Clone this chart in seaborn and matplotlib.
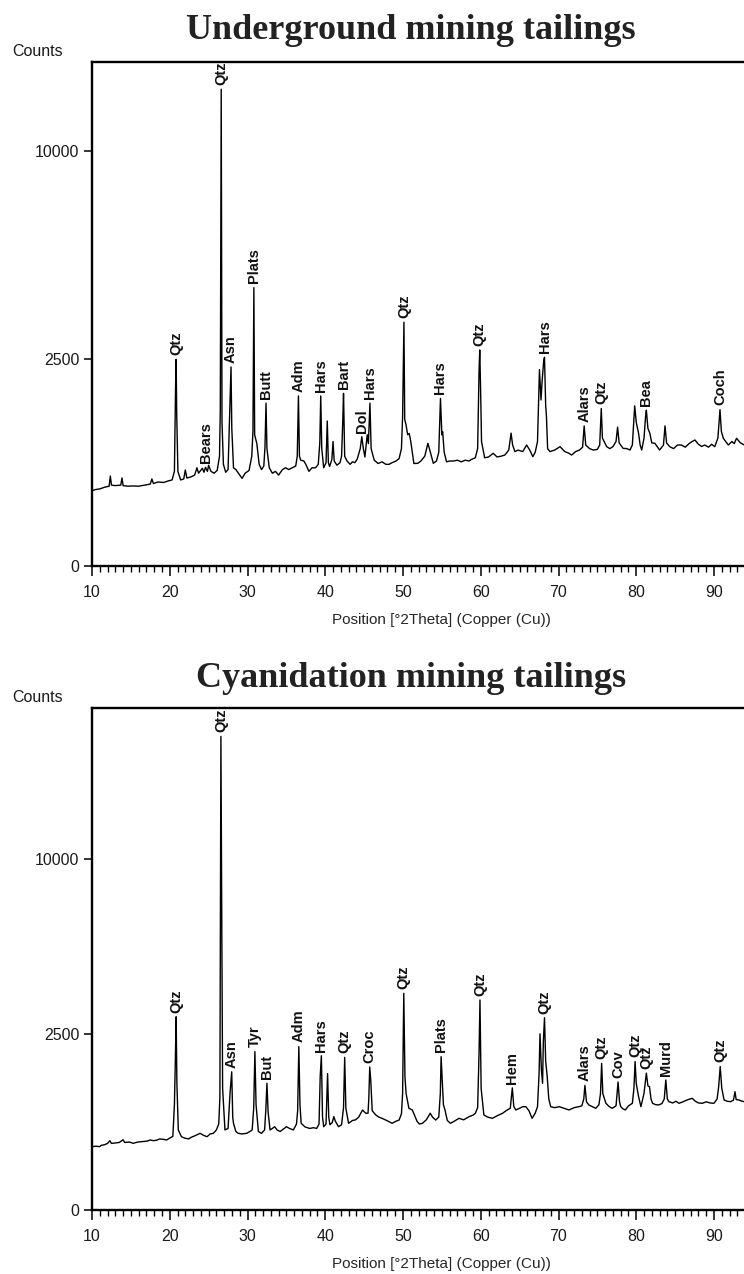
import numpy as np
import pandas as pd
import matplotlib
matplotlib.use("Agg")
import matplotlib.pyplot as plt
from matplotlib.ticker import MultipleLocator, FixedLocator, NullLocator
import seaborn as sns

# ---------------- Underground mining tailings: diffractogram ----------------
ug_theta = [
    10.0, 10.5, 11.0, 11.6, 12.2, 12.36, 12.5, 13.0, 13.7, 13.86, 14.0, 14.6, 15.3, 16.0, 16.8,
    17.5, 17.7, 17.9, 18.5, 19.2, 19.8, 20.3, 20.6, 20.75, 20.82, 20.9, 21.05, 21.4, 21.8, 22.0,
    22.2, 22.7, 23.2, 23.5, 23.7, 24.2, 24.4, 24.6, 24.85, 25.0, 25.3, 25.7, 26.1, 26.4, 26.5,
    26.62, 26.72, 26.9, 27.2, 27.5, 27.75, 27.88, 27.98, 28.2, 28.5, 29.0, 29.3, 29.7, 30.2, 30.55,
    30.7, 30.82, 30.92, 31.2, 31.5, 31.8, 32.1, 32.25, 32.38, 32.5, 32.8, 33.2, 33.6, 34.0, 34.5,
    34.9, 35.3, 35.75, 36.2, 36.4, 36.55, 36.68, 36.85, 37.25, 37.5, 37.9, 38.3, 38.75, 39.1, 39.3,
    39.42, 39.55, 39.8, 40.1, 40.26, 40.4, 40.56, 40.85, 41.0, 41.15, 41.5, 41.9, 42.1, 42.25, 42.35,
    42.5, 42.8, 43.2, 43.5, 43.8, 44.1, 44.5, 44.7, 44.9, 45.1, 45.4, 45.55, 45.75, 45.9, 46.3,
    46.8, 47.3, 47.8, 48.2, 48.6, 49.1, 49.5, 49.8, 49.95, 50.05, 50.12, 50.22, 50.4, 50.6, 50.8,
    51.0, 51.4, 51.9, 52.3, 52.8, 53.2, 53.5, 53.9, 54.3, 54.6, 54.75, 54.82, 55.0, 55.1, 55.3,
    55.6, 56.0, 56.5, 57.0, 57.5, 58.0, 58.5, 58.8, 59.3, 59.6, 59.78, 59.87, 59.97, 60.1, 60.5,
    61.0, 61.6, 62.1, 62.6, 63.1, 63.6, 63.9, 64.1, 64.4, 64.8, 65.4, 65.9, 66.3, 66.7, 67.0,
    67.3, 67.55, 67.75, 67.9, 68.1, 68.2, 68.35, 68.45, 68.6, 68.9, 69.5, 70.2, 70.8, 71.3, 71.7,
    72.2, 72.7, 73.1, 73.3, 73.5, 74.0, 74.5, 75.0, 75.3, 75.5, 75.65, 76.2, 76.6, 77.0, 77.4,
    77.6, 77.8, 78.3, 78.8, 79.2, 79.5, 79.8, 80.0, 80.3, 80.5, 80.7, 81.0, 81.2, 81.3, 81.5,
    81.75, 82.0, 82.4, 83.0, 83.5, 83.7, 83.9, 84.3, 84.8, 85.3, 85.8, 86.3, 86.8, 87.2, 87.55,
    88.0, 88.4, 88.8, 89.3, 89.7, 90.1, 90.5, 90.77, 90.95, 91.2, 91.5, 91.85, 92.3, 92.6, 92.9,
    93.4, 93.9, 94.5, 95.2, 96.0,
]
ug_counts = [
    330, 340, 345, 360, 370, 470, 380, 375, 380, 450, 375, 370, 372, 370, 380,
    390, 440, 395, 410, 405, 420, 430, 520, 1900, 2480, 1300, 520, 430, 440, 535,
    450, 460, 480, 560, 500, 555, 510, 565, 520, 590, 520, 500, 530, 700, 1410,
    13200, 1200, 600, 510, 540, 1560, 2300, 1100, 560, 540, 480, 446, 500, 530, 700,
    1050, 4500, 1000, 870, 600, 540, 580, 830, 1540, 800, 560, 500, 520, 480, 540,
    560, 540, 560, 580, 700, 1680, 700, 650, 640, 600, 520, 560, 560, 600, 880,
    1680, 800, 560, 620, 1220, 620, 575, 660, 900, 640, 590, 620, 700, 1200, 1730,
    700, 640, 600, 630, 620, 660, 800, 970, 800, 690, 1000, 870, 1540, 800, 650,
    610, 630, 600, 600, 620, 640, 670, 800, 1300, 2350, 3450, 1250, 1150, 1000, 1020,
    900, 610, 612, 640, 700, 874, 760, 612, 640, 750, 1350, 1630, 1000, 1047, 750,
    630, 640, 640, 650, 630, 650, 640, 660, 680, 800, 2200, 2710, 1900, 900, 680,
    690, 737, 690, 700, 715, 780, 1025, 850, 760, 780, 760, 850, 780, 694, 750,
    900, 2240, 1600, 2000, 2450, 2530, 1500, 1300, 800, 760, 780, 827, 760, 740, 715,
    760, 781, 820, 1140, 850, 800, 780, 790, 850, 1440, 950, 827, 800, 827, 900,
    1120, 880, 804, 800, 781, 850, 1490, 1200, 1022, 850, 781, 950, 1300, 1410, 1100,
    1022, 880, 874, 781, 850, 1140, 880, 827, 800, 850, 850, 820, 870, 900, 922,
    860, 830, 850, 820, 860, 827, 950, 1420, 1050, 947, 900, 850, 900, 870, 947,
    880, 850, 900, 880, 900,
]
ug_peak_pos = [20.82, 24.6, 26.62, 27.88, 30.82, 32.38, 36.55, 39.42, 42.35, 44.7,
               45.75, 50.12, 54.82, 59.87, 68.2, 73.3, 75.5, 81.3, 90.77]
ug_peak_names = ["Qtz", "Bears", "Qtz", "Asn", "Plats", "Butt", "Adm", "Hars", "Bart", "Dol",
                 "Hars", "Qtz", "Hars", "Qtz", "Hars", "Alars", "Qtz", "Bea", "Coch"]

# ---------------- Cyanidation mining tailings: diffractogram ----------------
cy_theta = [
    10.0, 10.5, 11.0, 11.2, 11.6, 12.0, 12.3, 12.5, 13.0, 13.5, 14.0, 14.2, 14.8, 15.3, 15.9,
    16.5, 17.1, 17.47, 17.9, 18.3, 18.7, 19.2, 19.6, 20.0, 20.4, 20.6, 20.72, 20.82, 20.92, 21.1,
    21.5, 21.9, 22.4, 22.8, 23.3, 23.9, 24.4, 24.8, 25.2, 25.6, 26.0, 26.3, 26.45, 26.58, 26.65,
    26.7, 26.8, 27.1, 27.5, 27.75, 27.85, 27.97, 28.1, 28.2, 28.5, 28.8, 29.3, 29.9, 30.3, 30.6,
    30.8, 30.95, 31.1, 31.4, 31.8, 32.2, 32.35, 32.5, 32.65, 32.9, 33.2, 33.5, 33.8, 34.2, 34.6,
    35.0, 35.4, 35.9, 36.3, 36.45, 36.6, 36.75, 36.9, 37.4, 38.0, 38.5, 38.9, 39.2, 39.35, 39.5,
    39.65, 39.8, 40.1, 40.3, 40.45, 40.6, 40.9, 41.1, 41.3, 41.7, 42.1, 42.35, 42.5, 42.65, 43.0,
    43.5, 43.9, 44.3, 44.8, 45.2, 45.5, 45.6, 45.72, 45.85, 46.04, 46.5, 46.9, 47.3, 47.9, 48.6,
    49.1, 49.5, 49.8, 49.95, 50.1, 50.25, 50.4, 50.76, 51.2, 51.8, 52.1, 52.5, 53.0, 53.5, 53.8,
    54.2, 54.6, 54.8, 54.9, 55.05, 55.2, 55.4, 55.7, 56.1, 56.6, 57.2, 57.8, 58.5, 59.0, 59.3,
    59.6, 59.78, 59.9, 60.05, 60.4, 60.9, 61.5, 62.1, 62.8, 63.4, 63.8, 64.06, 64.25, 64.5, 65.0,
    65.4, 65.8, 66.2, 66.6, 67.0, 67.3, 67.5, 67.62, 67.8, 67.95, 68.05, 68.2, 68.35, 68.55, 68.75,
    69.0, 69.5, 70.1, 70.7, 71.35, 72.0, 72.6, 73.0, 73.25, 73.4, 73.6, 73.9, 74.3, 74.8, 75.2,
    75.4, 75.55, 75.7, 76.1, 76.5, 76.9, 77.4, 77.66, 77.85, 78.0, 78.3, 78.6, 79.0, 79.5, 79.7,
    79.85, 80.0, 80.3, 80.6, 81.0, 81.15, 81.3, 81.5, 81.7, 81.9, 82.1, 82.5, 82.9, 83.3, 83.6,
    83.8, 84.0, 84.2, 84.7, 85.1, 85.5, 86.0, 86.5, 86.9, 87.2, 87.6, 88.0, 88.5, 89.0, 89.5,
    90.0, 90.4, 90.6, 90.8, 91.0, 91.3, 91.7, 92.15, 92.5, 92.7, 92.85, 93.2, 93.6, 93.9, 94.5,
    95.2,
]
cy_counts = [
    326, 330, 326, 340, 345, 360, 390, 360, 365, 370, 400, 370, 375, 361, 375,
    380, 385, 398, 390, 395, 410, 405, 398, 420, 440, 900, 1825, 3030, 1300, 520,
    436, 420, 410, 430, 450, 477, 450, 436, 470, 477, 520, 600, 1030, 18200, 10000,
    6050, 1200, 520, 540, 1100, 1300, 1550, 700, 610, 500, 477, 470, 477, 500, 520,
    850, 2035, 900, 500, 477, 520, 800, 1303, 780, 520, 540, 563, 520, 500, 530,
    563, 540, 520, 600, 800, 2165, 900, 610, 560, 540, 550, 540, 600, 1450, 1930,
    700, 563, 600, 1510, 700, 590, 620, 707, 640, 563, 590, 850, 1890, 840, 610,
    650, 660, 700, 812, 760, 760, 1000, 1660, 1372, 800, 733, 700, 682, 650, 610,
    640, 657, 750, 1100, 3810, 1443, 1100, 839, 812, 640, 600, 610, 660, 760, 700,
    657, 700, 1100, 1908, 1372, 900, 812, 650, 610, 640, 682, 660, 707, 730, 759,
    850, 1990, 3580, 1200, 733, 700, 682, 720, 759, 812, 840, 1210, 870, 812, 840,
    866, 866, 800, 682, 760, 866, 1500, 2520, 1600, 1303, 2300, 3000, 1800, 1443, 1000,
    866, 850, 866, 840, 812, 850, 866, 880, 1000, 1260, 950, 895, 870, 839, 900,
    1100, 1746, 1100, 924, 870, 839, 880, 1330, 950, 866, 830, 812, 880, 924, 1200,
    1790, 1300, 1042, 866, 1105, 1300, 1520, 1250, 1234, 1000, 924, 900, 895, 920, 1000,
    1372, 1000, 952, 930, 960, 924, 950, 980, 1000, 1012, 960, 930, 924, 950, 930,
    924, 1000, 1234, 1670, 1200, 982, 960, 952, 980, 1136, 990, 982, 960, 952, 980,
    960,
]
cy_peak_pos = [20.82, 26.58, 27.97, 30.95, 32.5, 36.6, 39.5, 42.5, 45.72, 50.1, 54.9,
               59.9, 64.06, 68.2, 73.4, 75.55, 77.66, 79.85, 81.3, 83.8, 90.8]
cy_peak_names = ["Qtz", "Qtz", "Asn", "Tyr", "But", "Adm", "Hars", "Qtz", "Croc", "Qtz", "Plats",
                 "Qtz", "Hem", "Qtz", "Alars", "Qtz", "Cov", "Qtz", "Qtz", "Murd", "Qtz"]

panel_titles = ["Underground mining tailings", "Cyanidation mining tailings"]
y_ticks = [0, 2500, 10000]
y_tops = [14750, 20450]
x_ticks = [10, 20, 30, 40, 50, 60, 70, 80, 90]
x_label = "Position [°2Theta] (Copper (Cu))"

sns.set_theme(style="white")
plt.rcParams["font.family"] = ["Liberation Sans", "DejaVu Sans"]
plt.rcParams["axes.edgecolor"] = "black"
plt.rcParams["text.color"] = "#1a1a1a"
plt.rcParams["xtick.color"] = "black"
plt.rcParams["ytick.color"] = "black"
plt.rcParams["xtick.labelcolor"] = "#1a1a1a"
plt.rcParams["ytick.labelcolor"] = "#1a1a1a"

W, H = 744, 1274
fig = plt.figure(figsize=(W / 100, H / 100), dpi=100)
fig.patch.set_facecolor("white")


def frac_x(px):
    return px / W


def frac_y(py):
    return 1 - py / H


def draw_panel(top_px, bottom_px, theta, counts, peak_pos, peak_names, ytop,
               title, title_base_px, counts_px):
    # the scan axis runs 10-100 °2θ; the figure shows it up to about 94 °
    left_px, right_px = 92, 92 + 90 * 7.775
    ax = fig.add_axes([frac_x(left_px), frac_y(bottom_px),
                       frac_x(right_px - left_px), (bottom_px - top_px) / H])
    df = pd.DataFrame({"theta": theta, "counts": counts})
    sns.lineplot(data=df, x="theta", y="counts", ax=ax, color="black",
                 linewidth=1.0, estimator=None, sort=False)
    ax.set_yscale("function", functions=(lambda v: np.sqrt(np.clip(v, 0, None)), np.square))
    ax.set_xlim(10, 100)
    ax.set_ylim(0, ytop)
    ax.yaxis.set_major_locator(FixedLocator(y_ticks))
    ax.yaxis.set_minor_locator(NullLocator())
    ax.set_yticklabels([str(t) for t in y_ticks])
    ax.xaxis.set_major_locator(FixedLocator(x_ticks))
    ax.set_xticklabels([str(t) for t in x_ticks])
    ax.xaxis.set_minor_locator(MultipleLocator(1))
    ax.tick_params(axis="x", which="major", direction="out", length=7, width=1.1,
                   pad=7, labelsize=11.5, bottom=True)
    ax.tick_params(axis="x", which="minor", direction="out", length=4, width=1.0, bottom=True)
    ax.tick_params(axis="y", which="major", direction="out", length=6, width=1.1,
                   pad=3, labelsize=11.5, left=True)
    for side in ("left", "bottom", "top"):
        ax.spines[side].set_linewidth(1.7)
        ax.spines[side].set_color("black")
    ax.spines["right"].set_visible(False)
    ax.set_ylabel("")
    ax.set_xlabel(x_label, fontsize=11, labelpad=9)
    ax.set_facecolor("white")

    th = np.asarray(theta)
    ct = np.asarray(counts)
    for pos, name in zip(peak_pos, peak_names):
        near = np.abs(th - pos) <= 0.2
        top = ct[near].max()
        ax.annotate(name, xy=(pos, top), xytext=(0, 3), textcoords="offset points",
                    rotation=90, ha="center", va="bottom", fontsize=10.5,
                    fontweight="bold", color="#111111", annotation_clip=False)

    fig.text(frac_x(411), frac_y(title_base_px), title, ha="center", va="baseline",
             fontsize=26, fontweight="bold", family=["Liberation Serif", "DejaVu Serif"],
             color="#222222")
    fig.text(frac_x(12), frac_y(counts_px), "Counts", ha="left", va="center", fontsize=11.5)
    return ax


draw_panel(62, 566, ug_theta, ug_counts, ug_peak_pos, ug_peak_names, y_tops[0],
           panel_titles[0], 39, 52)
draw_panel(708, 1210, cy_theta, cy_counts, cy_peak_pos, cy_peak_names, y_tops[1],
           panel_titles[1], 687, 697)

fig.savefig("out.png", dpi=100, facecolor="white")
